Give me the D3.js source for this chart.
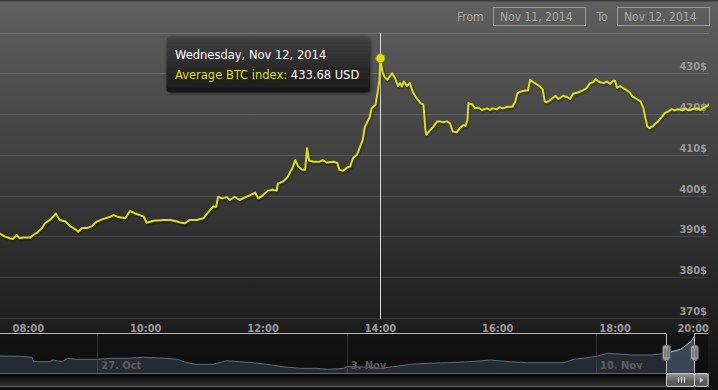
<!DOCTYPE html>
<html><head><meta charset="utf-8">
<script src="https://cdn.jsdelivr.net/npm/d3@7"></script>
<style>html,body{margin:0;padding:0;background:#101010;overflow:hidden}svg{display:block}</style>
</head><body><svg id="c" width="718" height="390"></svg>
<script>
// ---------- data ----------
const day = "2014-11-12";
const times = ["07:30","07:36","07:41","07:44","07:48","07:51","07:55","08:02","08:05","08:09","08:14","08:17","08:22","08:27","08:28","08:32","08:38","08:43","08:48","08:51","08:55","09:00","09:05","09:10","09:16","09:24","09:27","09:32","09:39","09:44","09:49","09:54","09:58","10:01","10:08","10:18","10:25","10:32","10:35","10:40","10:45","10:52","10:59","11:03","11:06","11:09","11:12","11:14","11:18","11:23","11:26","11:31","11:36","11:42","11:47","11:52","11:55","12:00","12:05","12:10","12:14","12:15","12:20","12:25","12:28","12:30","12:33","12:36","12:40","12:43","12:45","12:47","12:51","12:58","13:01","13:05","13:12","13:16","13:18","13:22","13:26","13:29","13:32","13:36","13:39","13:42","13:44","13:49","13:51","13:55","13:57","13:59","14:00","14:02","14:04","14:07","14:10","14:12","14:15","14:18","14:20","14:22","14:24","14:27","14:30","14:33","14:37","14:41","14:44","14:46","14:47","14:51","14:54","14:58","15:01","15:04","15:08","15:11","15:14","15:18","15:21","15:25","15:27","15:29","15:30","15:34","15:37","15:40","15:44","15:49","15:52","15:55","15:59","16:02","16:05","16:10","16:15","16:18","16:20","16:23","16:28","16:31","16:33","16:35","16:38","16:43","16:46","16:48","16:50","16:54","16:59","17:02","17:07","17:11","17:14","17:17","17:22","17:27","17:31","17:34","17:38","17:40","17:43","17:45","17:48","17:52","17:55","17:58","18:00","18:02","18:05","18:08","18:12","18:15","18:18","18:22","18:26","18:29","18:31","18:33","18:35","18:38","18:41","18:44","18:48","18:51","18:54","18:58","19:01","19:04","19:09","19:12","19:15","19:19","19:24","19:27","19:30","19:34","19:36","19:38"];
const prices = [390.8,389.9,389.5,389.3,390.3,389.5,389.7,389.7,390.3,390.9,392.0,393.2,394.0,395.2,395.6,394.0,393.6,392.4,391.7,391.1,392.0,392.0,392.5,393.6,394.2,394.8,395.2,394.7,394.4,396.2,395.6,395.2,394.8,393.3,393.8,394.0,394.0,393.6,393.4,393.2,394.0,394.0,394.4,395.6,396.5,397.3,397.2,399.7,399.3,399.6,398.9,399.7,398.9,399.6,400.1,400.7,399.3,400.1,401.2,401.4,401.2,402.9,403.4,404.5,405.9,406.7,408.7,407.1,406.3,406.3,411.6,408.6,408.3,408.3,408.7,408.1,408.3,408.0,406.3,406.1,406.9,407.1,409.2,410.0,411.8,413.7,416.8,419.2,421.4,422.3,425.1,428.4,433.68,430.4,429.2,428.4,429.4,430.0,428.8,426.9,427.6,426.8,428.0,426.9,427.6,425.5,423.9,422.7,422.3,416.1,414.9,416.1,416.8,418.2,418.2,418.0,418.2,417.8,415.7,415.5,416.5,417.3,417.1,418.5,422.7,422.3,421.4,421.6,421.0,421.4,421.0,421.4,421.2,421.7,421.4,421.8,421.8,423.1,425.1,425.5,425.8,425.8,428.4,428.0,427.6,426.8,426.0,423.1,422.9,423.5,424.5,423.7,424.5,424.2,423.7,425.0,425.3,425.8,426.4,427.5,427.9,428.6,428.0,427.8,427.6,428.0,427.4,428.2,428.2,426.4,426.9,426.4,425.8,425.3,424.3,423.7,423.1,421.4,419.0,416.9,416.5,416.9,417.6,418.2,419.4,420.3,420.6,421.2,420.9,421.2,420.9,421.4,420.9,421.2,421.4,421.0,421.4,422.0,422.3,422.6];
const xDomain = ["07:31","19:36"];
const xTickLabels = ["08:00","10:00","12:00","14:00","16:00","18:00","20:00"];
const yGridValues = [370,380,390,400,410,420,430,440];
const yTickLabels = [370,380,390,400,410,420,430];
const yDomain = [370,440];

const navDates = ["2014-10-24 06:00","2014-10-24 20:00","2014-10-25 04:00","2014-10-25 05:00","2014-10-25 16:00","2014-10-25 18:00","2014-10-26 00:00","2014-10-26 04:00","2014-10-26 10:00","2014-10-27 00:00","2014-10-27 09:00","2014-10-27 20:00","2014-10-28 07:00","2014-10-28 23:00","2014-10-29 06:00","2014-10-29 12:00","2014-10-29 19:00","2014-10-30 06:00","2014-10-30 15:00","2014-10-31 00:00","2014-10-31 09:00","2014-10-31 18:00","2014-11-01 05:00","2014-11-01 17:00","2014-11-02 04:00","2014-11-02 11:00","2014-11-02 22:00","2014-11-03 00:00","2014-11-03 09:00","2014-11-03 23:00","2014-11-04 07:00","2014-11-04 19:00","2014-11-05 06:00","2014-11-05 20:00","2014-11-06 11:00","2014-11-07 01:00","2014-11-07 14:00","2014-11-08 02:00","2014-11-08 15:00","2014-11-09 02:00","2014-11-09 09:00","2014-11-09 18:00","2014-11-10 01:00","2014-11-10 08:00","2014-11-10 16:00","2014-11-11 01:00","2014-11-11 13:00","2014-11-11 23:00","2014-11-12 03:00","2014-11-12 09:00","2014-11-12 14:00","2014-11-12 16:00","2014-11-12 18:00"];
const navPrices = [369.0,368.1,364.7,350.2,350.2,355.8,350.2,361.4,358.1,358.1,361.4,361.4,364.7,361.4,358.1,346.9,341.6,341.6,353.5,350.2,346.9,341.6,333.6,328.3,328.3,325.0,328.3,333.6,333.6,328.3,333.6,341.6,344.9,346.9,350.2,355.8,350.2,346.9,346.9,346.9,358.1,363.4,369.0,378.0,375.7,372.4,372.4,378.0,383.3,391.2,408.8,416.4,433.0];
const navDomain = ["2014-10-24 06:24","2014-11-12 18:00"];
const navYDomain = [314,444];
const navWeeks = ["2014-10-27 00:00","2014-11-03 00:00","2014-11-10 00:00"];
const navWeekLabels = ["27. Oct","3. Nov","10. Nov"];
const navSelection = ["2014-11-11 23:00","2014-11-12 18:00"];

const tipHeader = "Wednesday, Nov 12, 2014";
const tipTime = "14:00";
const tipValue = 433.68;
const seriesName = "Average BTC index";
const rangeLabels = ["From","To"];
const rangeValues = ["Nov 11, 2014","Nov 12, 2014"];

// ---------- drawing ----------
const svg = d3.select("#c");
const W = 718, H = 390;
const parseT = d3.timeParse("%Y-%m-%d %H:%M");
const pt = t => parseT(day + " " + t);
const plot = {left:0, right:709, top:32.6, bottom:317.7};
const yellow = "#DDDF0D";

const defs = svg.append("defs");
const bg = defs.append("linearGradient").attr("id","bg").attr("x1",0).attr("y1",0).attr("x2",0).attr("y2",1);
bg.append("stop").attr("offset",0).attr("stop-color","rgb(96,96,96)");
bg.append("stop").attr("offset",1).attr("stop-color","rgb(16,16,16)");
const tg = defs.append("linearGradient").attr("id","tip").attr("x1",0).attr("y1",0).attr("x2",0).attr("y2",1);
tg.append("stop").attr("offset",0).attr("stop-color","rgba(66,66,66,0.95)");
tg.append("stop").attr("offset",1).attr("stop-color","rgba(22,22,22,0.95)");
const sbTrack = defs.append("linearGradient").attr("id","sbt").attr("x1",0).attr("y1",0).attr("x2",0).attr("y2",1);
sbTrack.append("stop").attr("offset",0).attr("stop-color","#000");
sbTrack.append("stop").attr("offset",1).attr("stop-color","#333");
const sbBar = defs.append("linearGradient").attr("id","sbb").attr("x1",0).attr("y1",0).attr("x2",0).attr("y2",1);
sbBar.append("stop").attr("offset",0).attr("stop-color","#999");
sbBar.append("stop").attr("offset",0.6).attr("stop-color","#5a5a5a");
const hg = defs.append("linearGradient").attr("id","hg").attr("x1",0).attr("y1",0).attr("x2",1).attr("y2",0);
hg.append("stop").attr("offset",0).attr("stop-color","#a8a8a8");
hg.append("stop").attr("offset",1).attr("stop-color","#8a8a8a");
defs.append("clipPath").attr("id","pc").append("rect")
  .attr("x",plot.left).attr("y",plot.top-6).attr("width",plot.right-plot.left).attr("height",plot.bottom-plot.top+6);
const sh = defs.append("filter").attr("id","sh").attr("x","-20%").attr("y","-20%").attr("width","140%").attr("height","150%");
sh.append("feDropShadow").attr("dx",1).attr("dy",1).attr("stdDeviation",1.5).attr("flood-color","#000").attr("flood-opacity",0.5);

svg.append("rect").attr("width",W).attr("height",H).attr("fill","url(#bg)");
svg.append("rect").attr("width",W).attr("height",1.5).attr("fill","#3a3a3a");

const x = d3.scaleTime().domain(xDomain.map(pt)).range([plot.left, plot.right]);
const y = d3.scaleLinear().domain(yDomain).range([plot.bottom, plot.top]);

// gridlines
svg.append("g").selectAll("line").data(yGridValues).join("line")
  .attr("x1",plot.left).attr("x2",plot.right)
  .attr("y1",d=>Math.round(y(d))+0.5).attr("y2",d=>Math.round(y(d))+0.5)
  .attr("stroke","rgba(255,255,255,0.12)").attr("stroke-width",1);

// y labels (inside, right)
svg.append("g").selectAll("text").data(yTickLabels).join("text")
  .attr("x",plot.right-2).attr("y",d=>y(d)-3)
  .attr("text-anchor","end")
  .attr("font-family","'DejaVu Sans Condensed','DejaVu Sans',sans-serif").attr("font-weight","bold").attr("font-size",11)
  .attr("fill","#999").text(d=>d+"$");

// x labels
svg.append("g").selectAll("text").data(xTickLabels).join("text")
  .each(function(d){
    let px = x(pt(d));
    const el = d3.select(this);
    if (px + 16 > plot.right) { el.attr("x",plot.right).attr("text-anchor","end"); }
    else { el.attr("x",px).attr("text-anchor","middle"); }
  })
  .attr("y",331.5)
  .attr("font-family","'DejaVu Sans Condensed','DejaVu Sans',sans-serif").attr("font-weight","bold").attr("font-size",11)
  .attr("fill","#999").text(d=>d);

// crosshair
const cx = x(pt(tipTime));
svg.append("line").attr("x1",Math.round(cx)+0.5).attr("x2",Math.round(cx)+0.5)
  .attr("y1",plot.top).attr("y2",plot.bottom+1).attr("stroke","#d8d8d8").attr("stroke-width",1);

// series
const data = times.map((t,i)=>({t:pt(t), v:prices[i]}));
const line = d3.line().x(d=>x(d.t)).y(d=>y(d.v));
const gS = svg.append("g").attr("clip-path","url(#pc)");
gS.append("path").datum(data).attr("d",line).attr("fill","none")
  .attr("stroke","rgba(0,0,0,0.18)").attr("stroke-width",4).attr("transform","translate(1,1.5)").attr("stroke-linejoin","round");
gS.append("path").datum(data).attr("d",line).attr("fill","none")
  .attr("stroke",yellow).attr("stroke-width",2).attr("stroke-linejoin","round");

// marker
svg.append("circle").attr("cx",cx).attr("cy",y(tipValue)).attr("r",4.5)
  .attr("fill",yellow).attr("stroke","#9a9a10").attr("stroke-width",1);

// tooltip
const tip = svg.append("g");
tip.append("rect").attr("x",166.5).attr("y",36.5).attr("width",203.5).attr("height",56).attr("rx",4)
  .attr("fill","url(#tip)").attr("filter","url(#sh)");
tip.append("text").attr("x",175).attr("y",58.5)
  .attr("font-family","'DejaVu Sans',sans-serif").attr("font-size",11.5).attr("fill","#fff").text(tipHeader);
const t2 = tip.append("text").attr("x",175).attr("y",78.5)
  .attr("font-family","'DejaVu Sans',sans-serif").attr("font-size",11.5);
t2.append("tspan").attr("fill",yellow).text(seriesName + ":");
t2.append("tspan").attr("fill","#fff").text(" " + d3.format(".2f")(tipValue) + " USD");

// range selector
const rfont = "'DejaVu Sans Condensed','DejaVu Sans',sans-serif";
svg.append("text").attr("x",457).attr("y",21).attr("font-family",rfont).attr("font-size",12).attr("fill","#aaa").text(rangeLabels[0]);
svg.append("text").attr("x",596.5).attr("y",21).attr("font-family",rfont).attr("font-size",12).attr("fill","#aaa").text(rangeLabels[1]);
[493.5, 617.5].forEach((bx,i)=>{
  svg.append("rect").attr("x",bx).attr("y",7.5).attr("width",92).attr("height",18)
    .attr("fill","none").attr("stroke","#999").attr("stroke-width",1);
  svg.append("text").attr("x",bx+6.5).attr("y",21).attr("font-family",rfont).attr("font-size",12)
    .attr("fill","#aaa").text(rangeValues[i]);
});

// ---------- navigator ----------
const nav = {left:0, right:694, top:333.3, bottom:372.7};
const pd = s => parseT(s);
const nx = d3.scaleTime().domain(navDomain.map(pd)).range([nav.left, nav.right]);
const ny = d3.scaleLinear().domain(navYDomain).range([nav.bottom, nav.top]);
const nData = navDates.map((d,i)=>({t:pd(d), v:navPrices[i]}));

svg.append("rect").attr("x",0).attr("y",nav.top).attr("width",708).attr("height",nav.bottom-nav.top).attr("fill","rgba(0,0,0,0.25)");
// week gridlines
svg.append("g").selectAll("line").data(navWeeks).join("line")
  .attr("x1",d=>Math.round(nx(pd(d)))+0.5).attr("x2",d=>Math.round(nx(pd(d)))+0.5)
  .attr("y1",nav.top).attr("y2",nav.bottom).attr("stroke","#555").attr("stroke-width",1);

const area = d3.area().x(d=>nx(d.t)).y0(nav.bottom).y1(d=>ny(d.v));
const nline = d3.line().x(d=>nx(d.t)).y(d=>ny(d.v));
svg.append("path").datum(nData).attr("d",area).attr("fill","rgba(119,152,191,0.4)");
svg.append("path").datum(nData).attr("d",nline).attr("fill","none").attr("stroke","#A6C7ED").attr("stroke-width",1);

// week labels
svg.append("g").selectAll("text").data(navWeeks).join("text")
  .attr("x",d=>nx(pd(d))+4).attr("y",368.5)
  .attr("font-family","'DejaVu Sans Condensed','DejaVu Sans',sans-serif").attr("font-weight","bold").attr("font-size",11)
  .attr("fill","#aaa").text((d,i)=>navWeekLabels[i]);

// mask outside selection
const s0 = nx(pd(navSelection[0])), s1 = nx(pd(navSelection[1]));
svg.append("rect").attr("x",0).attr("y",nav.top).attr("width",s0).attr("height",nav.bottom-nav.top).attr("fill","rgba(16,16,16,0.5)");
svg.append("rect").attr("x",s1).attr("y",nav.top).attr("width",708-s1).attr("height",nav.bottom-nav.top).attr("fill","rgba(16,16,16,0.5)");

// outline
const a0 = Math.round(s0)+0.5, a1 = Math.round(s1)+0.5, ty = Math.round(nav.top)+0.5, by = Math.round(nav.bottom)+0.5;
svg.append("path").attr("d",`M0,${ty}H${a0}V${by}H${a1}V${ty}H708`)
  .attr("fill","none").attr("stroke","#bbb").attr("stroke-width",1);

// handles
[a0, a1].forEach(hx=>{
  const g = svg.append("g");
  g.append("rect").attr("x",hx-4).attr("y",345).attr("width",8).attr("height",15.5).attr("rx",3)
    .attr("fill","url(#hg)").attr("stroke","#555").attr("stroke-width",1);
  [-1.5,1.5].forEach(o=>g.append("line").attr("x1",hx+o).attr("x2",hx+o).attr("y1",348.5).attr("y2",357).attr("stroke","#555").attr("stroke-width",1));
});

// scrollbar
svg.append("rect").attr("x",-10).attr("y",373.5).attr("width",718.5).attr("height",13).attr("fill","url(#sbt)").attr("stroke","#666").attr("stroke-width",1);
svg.append("rect").attr("x",a0).attr("y",373.5).attr("width",a1-a0).attr("height",13).attr("rx",2)
  .attr("fill","url(#sbb)").attr("stroke","#ccc").attr("stroke-width",1);
const rc = Math.round((a0+a1)/2);
[-3,0,3].forEach(o=>svg.append("line").attr("x1",rc+o+0.5).attr("x2",rc+o+0.5).attr("y1",377).attr("y2",383).attr("stroke","#fff").attr("stroke-width",1));
svg.append("rect").attr("x",a1).attr("y",373.5).attr("width",708-a1).attr("height",13).attr("rx",2)
  .attr("fill","url(#sbb)").attr("stroke","#ccc").attr("stroke-width",1);
const bc = (a1+708)/2;
svg.append("path").attr("d",`M${bc-1.5},${377}L${bc+2},${380}L${bc-1.5},${383}Z`).attr("fill","#ccc");
</script>
</body></html>
